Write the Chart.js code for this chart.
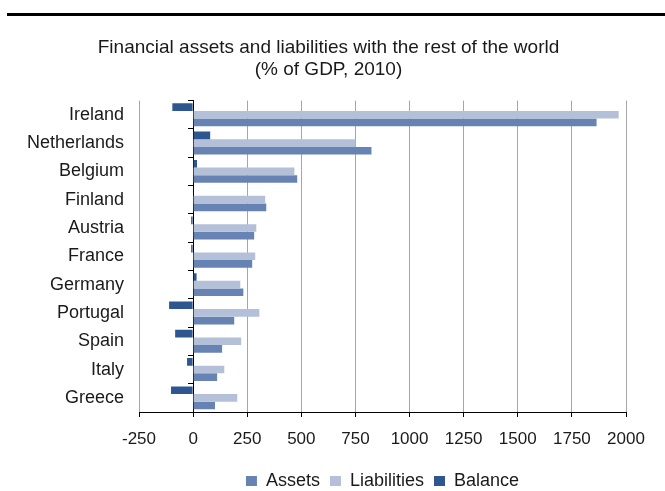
<!DOCTYPE html>
<html>
<head>
<meta charset="utf-8">
<script src="https://cdn.jsdelivr.net/npm/chart.js@4/dist/chart.umd.min.js"></script>
<style>
  html, body { margin: 0; padding: 0; background: #fff; overflow: hidden; }
  #rule { position: absolute; left: 7px; right: 0; top: 13px; height: 3px; background: #000; }
  #wrap { position: relative; width: 665px; height: 500px; }
</style>
</head>
<body>
<div id="rule"></div>
<div id="wrap"><canvas id="chart"></canvas></div>
<script>
const countries = ["Ireland", "Netherlands", "Belgium", "Finland", "Austria", "France",
  "Germany", "Portugal", "Spain", "Italy", "Greece"];
const assets = [1864, 824, 481, 338, 282, 273, 232, 190, 134, 111, 101];
const liabilities = [1966, 750, 468, 333, 292, 287, 218, 306, 222, 144, 204];
const balance = [-96, 79, 18, 2, -9, -9, 16, -111, -83, -28, -102];
const xTicks = [-250, 0, 250, 500, 750, 1000, 1250, 1500, 1750, 2000];

const font = "'Liberation Sans', Arial, sans-serif";
const textColor = "#1a1a1a";

// balance sits on top in each group, legend order is reversed
new Chart(document.getElementById("chart"), {
  type: "bar",
  data: {
    labels: countries,
    datasets: [
      { label: "Balance", data: balance, backgroundColor: "#2e5790" },
      { label: "Liabilities", data: liabilities, backgroundColor: "#b3c0d8" },
      { label: "Assets", data: assets, backgroundColor: "#6683b3" }
    ]
  },
  options: {
    indexAxis: "y",
    responsive: true,
    maintainAspectRatio: false,
    animation: false,
    datasets: { bar: { categoryPercentage: 0.81, barPercentage: 1 } },
    layout: { padding: { top: 36, right: 8, left: 0, bottom: 0 } },
    plugins: {
      title: {
        display: true,
        text: ["Financial assets and liabilities with the rest of the world", "(% of GDP, 2010)"],
        color: textColor,
        font: { family: font, size: 19, weight: "normal", lineHeight: 1.2 },
        padding: { top: 0, bottom: 19 }
      },
      legend: {
        position: "bottom",
        fullSize: false,
        reverse: true,
        labels: {
          color: textColor,
          font: { family: font, size: 18 },
          boxWidth: 11,
          boxHeight: 10,
          padding: 10
        }
      },
      tooltip: { enabled: false }
    },
    scales: {
      x: {
        type: "linear",
        min: -250,
        max: 2000,
        afterBuildTicks: (scale) => { scale.ticks = xTicks.map(v => ({ value: v })); },
        afterFit: (scale) => { scale.height = 50; },
        ticks: {
          color: textColor,
          font: { family: font, size: 17 },
          padding: 12,
          callback: (v) => String(v)
        },
        grid: {
          color: (c) => (c.tick && c.tick.value === 0 ? "#000" : "#a6a6a6"),
          tickColor: "#000",
          tickLength: 5
        },
        border: { color: "#000", width: 1 }
      },
      y: {
        afterFit: (scale) => { scale.width = 139; },
        ticks: { color: textColor, font: { family: font, size: 18 }, padding: 15 },
        grid: { display: false, drawTicks: false },
        border: { display: false }
      },
      y2: {
        type: "category",
        labels: countries,
        position: { x: 0 },
        afterFit: (scale) => { scale.width = 0; },
        ticks: { display: false },
        grid: { offset: true, drawOnChartArea: false, tickLength: 5, color: "#000" },
        border: { color: "#000", width: 1 }
      },
      // empty right margin so the plot ends at 2000 while the title stays centred
      yRight: {
        type: "category",
        labels: countries,
        position: "right",
        afterFit: (scale) => { scale.width = 31; },
        ticks: { display: false },
        grid: { display: false, drawTicks: false },
        border: { display: false }
      }
    }
  }
});
</script>
</body>
</html>
